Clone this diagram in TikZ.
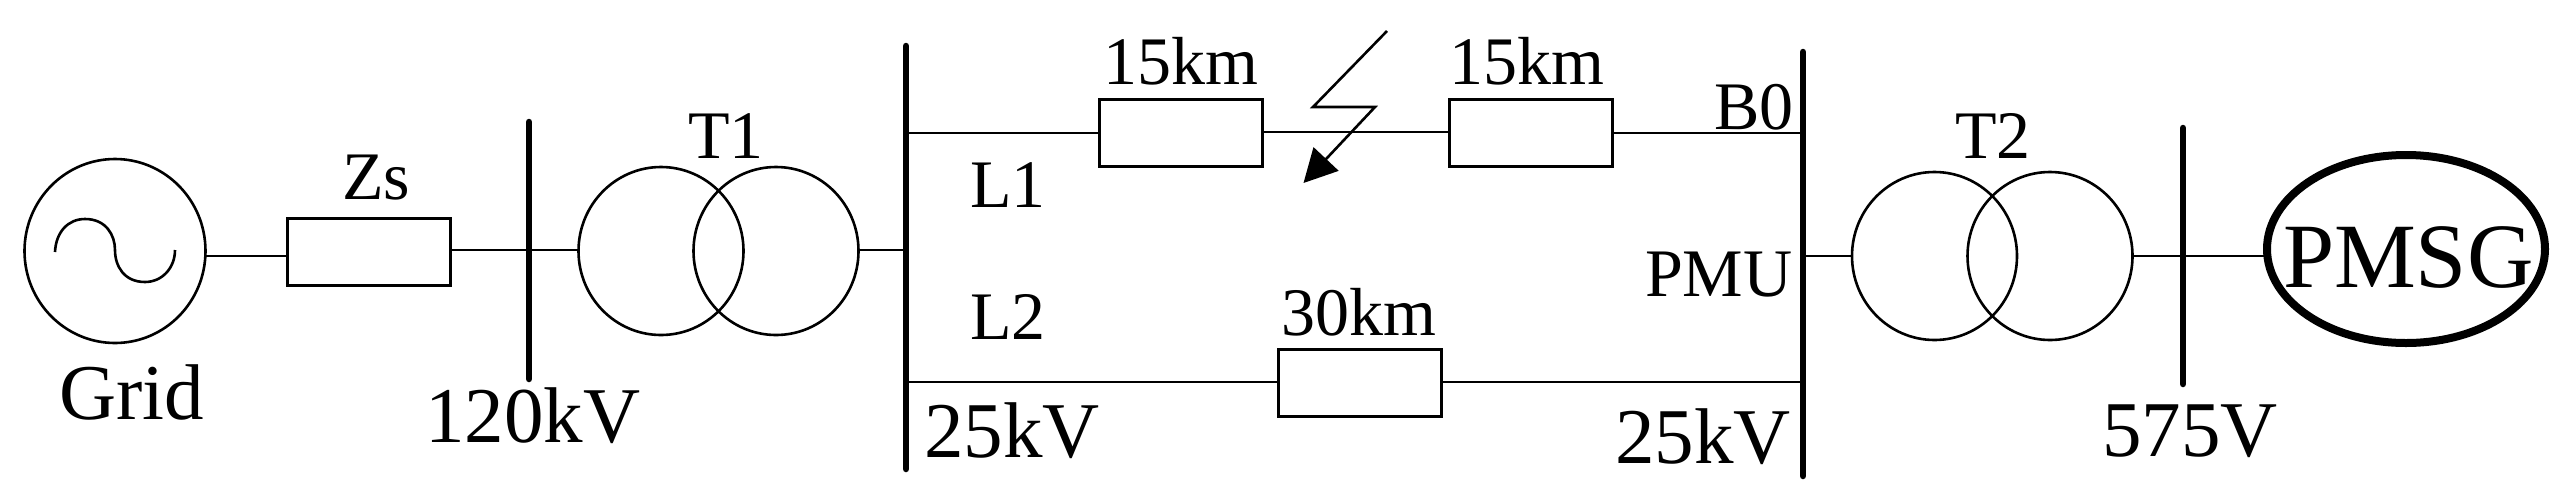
\documentclass[tikz,border=0pt]{standalone}
\usepackage{fontspec}
\setmainfont{Liberation Serif}
\usetikzlibrary{shapes.geometric,arrows.meta}
\tikzset{
  wire/.style={line width=2.6pt,black},
  busbar/.style={line width=6.5pt,line cap=round,black},
  imp/.style={draw,line width=3pt,rectangle,minimum width=163pt,minimum height=67pt,inner sep=0pt,outer sep=0pt},
  coil/.style={draw,line width=2.6pt,ellipse,minimum width=165pt,minimum height=168pt,inner sep=0pt,outer sep=0pt},
  lbl/.style={anchor=base west,inner sep=0pt,outer sep=0pt,font=\fontsize{68}{70}\selectfont},
  biglbl/.style={anchor=base west,inner sep=0pt,outer sep=0pt,font=\fontsize{79}{81}\selectfont},
}
\begin{document}
\begin{tikzpicture}[x=1pt,y=-1pt]
\useasboundingbox[fill=white] (0,0) rectangle (2565,499);
% source and generator
\node[draw,line width=2.6pt,ellipse,minimum width=181pt,minimum height=184pt,inner sep=0pt,outer sep=0pt] (grid) at (115,251) {};
\node[draw,line width=8pt,ellipse,minimum width=278pt,minimum height=188pt,inner sep=0pt,outer sep=0pt] (pmsg) at (2406,249) {};
\draw[wire] (55,252) .. controls (56,232) and (68,219) .. (85,219) .. controls (106,219) and (115,235) .. (115,250) .. controls (115,266) and (124,282) .. (145,282) .. controls (162,282) and (175,268) .. (175,250);
% impedances
\node[imp] (zs) at (368.5,252) {};
\node[imp] (za) at (1181,132.5) {};
\node[imp] (zb) at (1531,132.5) {};
\node[imp] (zc) at (1360,383) {};
% transformers
\node[coil] (t1a) at (661,251) {};
\node[coil] (t1b) at (776,251) {};
\node[coil] (t2a) at (1934.5,256) {};
\node[coil] (t2b) at (2050,256) {};
% busbars
\coordinate (b1t) at (529,122); \coordinate (b1b) at (529,379);
\coordinate (b2t) at (906,46);  \coordinate (b2b) at (906,469);
\coordinate (b3t) at (1803,52); \coordinate (b3b) at (1803,476);
\coordinate (b4t) at (2183,128); \coordinate (b4b) at (2183,384);
\draw[busbar] (b1t) -- (b1b);
\draw[busbar] (b2t) -- (b2b);
\draw[busbar] (b3t) -- (b3b);
\draw[busbar] (b4t) -- (b4b);
% connectors
\coordinate (g1) at (205,256); \coordinate (zsw) at (287,256);
\coordinate (zse) at (450,250); \coordinate (t1w) at (578.5,250);
\coordinate (t1e) at (858.5,250); \coordinate (b2m) at (906,250);
\coordinate (b2u) at (906,133); \coordinate (zaw) at (1099.5,133);
\coordinate (zae) at (1262.5,132); \coordinate (zbw) at (1449.5,132);
\coordinate (zbe) at (1612.5,133); \coordinate (b3u) at (1803,133);
\coordinate (b2l) at (906,382); \coordinate (zcw) at (1278.5,382);
\coordinate (zce) at (1441.5,382); \coordinate (b3l) at (1803,382);
\coordinate (b3m) at (1803,256); \coordinate (pw) at (2266,256);
\draw[wire] (g1) -- (zsw);
\draw[wire] (zse) -- (t1w);
\draw[wire] (t1e) -- (b2m);
\draw[wire] (b2u) -- (zaw);
\draw[wire] (zae) -- (zbw);
\draw[wire] (zbe) -- (b3u);
\draw[wire] (b2l) -- (zcw);
\draw[wire] (zce) -- (b3l);
\draw[wire] (b3m) -- (t2a.west);
\draw[wire] (t2b.east) -- (pw);
% fault
\coordinate (f1) at (1387,31); \coordinate (f2) at (1313,107);
\coordinate (f3) at (1375,107); \coordinate (f4) at (1303.5,183);
\draw[wire,-{Triangle[length=33pt,width=34pt]}] (f1) -- (f2) -- (f3) -- (f4);
% labels
\node[biglbl] (lgrid) at (59,419) {Grid};
\node[lbl] (lzs) at (342,199) {Zs};
\node[lbl] (lt1) at (688,158) {T1};
\node[biglbl] (l120) at (425,442) {120kV};
\node[biglbl] (l25a) at (924,457) {25kV};
\node[lbl] (ll1) at (970,207) {L1};
\node[lbl] (ll2) at (970,339) {L2};
\node[lbl] (l15a) at (1103,84) {15km};
\node[lbl] (l15b) at (1449,84) {15km};
\node[lbl] (l30) at (1281,335) {30km};
\node[lbl] (lb0) at (1714,129) {B0};
\node[lbl] (lpmu) at (1645,296) {PMU};
\node[biglbl] (l25b) at (1615,463) {25kV};
\node[lbl] (lt2) at (1955,158) {T2};
\node[biglbl] (l575) at (2102,456) {575V};
\node[anchor=base west,inner sep=0pt,outer sep=0pt,font=\fontsize{92}{94}\selectfont] (lpm) at (2283,287) {PMSG};
\end{tikzpicture}
\end{document}
